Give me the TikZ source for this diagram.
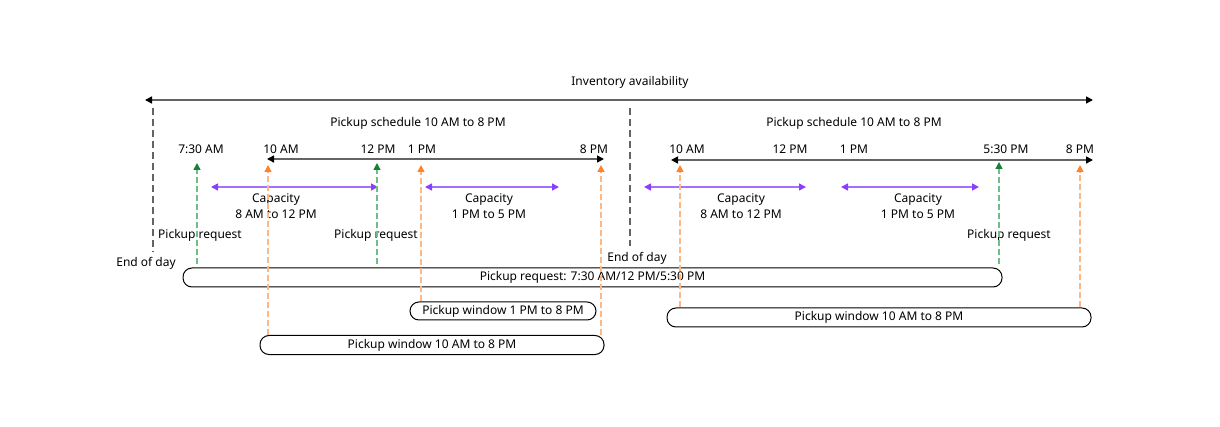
\documentclass[tikz,border=0pt]{standalone}
\usepackage{fontspec}
\setmainfont{Noto Sans}
\usetikzlibrary{arrows.meta}
\definecolor{axisgray}{RGB}{100,100,100}
\definecolor{reqgreen}{RGB}{25,128,56}
\definecolor{reqgreenl}{RGB}{111,190,135}
\definecolor{winorange}{RGB}{255,131,43}
\definecolor{winorangel}{RGB}{255,183,132}
\definecolor{cappurple}{RGB}{138,63,252}
\definecolor{cappurplel}{RGB}{165,110,255}
\tikzset{
  lbl/.style={font=\fontsize{12}{16}\selectfont, inner sep=0pt, align=center},
  pill/.style={draw, rounded corners=9pt, line width=1pt, minimum height=19pt,
    inner sep=0pt, font=\fontsize{12}{14}\selectfont},
  timeline/.style={axisgray, line width=1.5pt,
    {Triangle[length=7pt,width=7pt,color=black]}-{Triangle[length=7pt,width=7pt,color=black]}},
  dayend/.style={axisgray, line width=1.5pt, dash pattern=on 7pt off 4pt},
  reqarrow/.style={reqgreenl, line width=1.5pt, dash pattern=on 6pt off 3pt,
    -{Triangle[length=7pt,width=7pt,color=reqgreen]}},
  winarrow/.style={winorangel, line width=1.5pt, dash pattern=on 6pt off 3pt,
    -{Triangle[length=7pt,width=7pt,color=winorange]}},
  caparrow/.style={cappurplel, line width=1.5pt,
    {Triangle[length=7pt,width=7pt,color=cappurple]}-{Triangle[length=7pt,width=7pt,color=cappurple]}}
}
\begin{document}
\begin{tikzpicture}[x=1pt,y=-1pt]
  \useasboundingbox (0,0) rectangle (1220,427);
  % inventory
  \node[lbl] (inv) at (630,82) {Inventory availability};
  \coordinate (invl) at (145,100);
  \coordinate (invr) at (1093,100);
  \draw[timeline] (invl) -- (invr);
  % end of day
  \coordinate (eod1t) at (153,108);
  \coordinate (eod1b) at (153,252);
  \coordinate (eod2t) at (630,108);
  \coordinate (eod2b) at (630,246);
  \draw[dayend] (eod1t) -- (eod1b);
  \draw[dayend] (eod2t) -- (eod2b);
  \node[lbl] (eod1) at (146,263) {End of day};
  \node[lbl] (eod2) at (637,258) {End of day};
  % schedules
  \node[lbl] (sch1) at (418,123) {Pickup schedule 10 AM to 8 PM};
  \node[lbl] (sch2) at (854,123) {Pickup schedule 10 AM to 8 PM};
  \coordinate (ax1l) at (267,159);
  \coordinate (ax1r) at (604,159);
  \coordinate (ax2l) at (671,160);
  \coordinate (ax2r) at (1093,160);
  \draw[timeline] (ax1l) -- (ax1r);
  \draw[timeline] (ax2l) -- (ax2r);
  \foreach \x/\t/\n in {201/7:30 AM/ta,281/10 AM/tb,378/12 PM/tc,422/1 PM/td,594/8 PM/te}
    \node[lbl] (\n) at (\x,149) {\t};
  \foreach \x/\t/\n in {687/10 AM/tf,790/12 PM/tg,854/1 PM/th,1006/5:30 PM/ti,1080/8 PM/tj}
    \node[lbl] (\n) at (\x,149) {\t};
  % capacity
  \foreach \a/\b/\c/\t/\n in {211/378/276/8 AM to 12 PM/cap1,425/559/489/1 PM to 5 PM/cap2,
      644/806/741/8 AM to 12 PM/cap3,841/979/918/1 PM to 5 PM/cap4} {
    \coordinate (\n l) at (\a,187);
    \coordinate (\n r) at (\b,187);
    \draw[caparrow] (\n l) -- (\n r);
    \node[lbl] (\n) at (\c,206) {Capacity\\\t};
  }
  % boxes
  \node[pill, minimum width=819pt] (reqbox) at (592.5,277.5) {Pickup request: 7:30 AM/12 PM/5:30 PM};
  \node[pill, minimum width=186pt, minimum height=18pt] (win1) at (503,311) {Pickup window 1 PM to 8 PM};
  \node[pill, minimum width=344pt] (win2) at (432,345) {Pickup window 10 AM to 8 PM};
  \node[pill, minimum width=424pt] (win3) at (879,317.5) {Pickup window 10 AM to 8 PM};
  % requests
  \node[lbl] (rq1) at (200,235) {Pickup request};
  \node[lbl] (rq2) at (376,235) {Pickup request};
  \node[lbl] (rq3) at (1009,235) {Pickup request};
  \coordinate (g1) at (197,163);
  \coordinate (g2) at (377,163);
  \coordinate (g3) at (999,162);
  \foreach \g in {g1,g2,g3}
    \draw[reqarrow, shorten <=3pt] (reqbox.north -| \g) -- (\g);
  % windows
  \coordinate (o1) at (268,165);
  \coordinate (o2) at (421,165);
  \coordinate (o3) at (601,165);
  \coordinate (o4) at (680,165);
  \coordinate (o5) at (1080,165);
  \draw[winarrow] (win2.north -| o1) -- (o1);
  \draw[winarrow] (win1.north -| o2) -- (o2);
  \draw[winarrow] (win2.north -| o3) -- (o3);
  \draw[winarrow] (win3.north -| o4) -- (o4);
  \draw[winarrow] (win3.north -| o5) -- (o5);
\end{tikzpicture}
\end{document}
